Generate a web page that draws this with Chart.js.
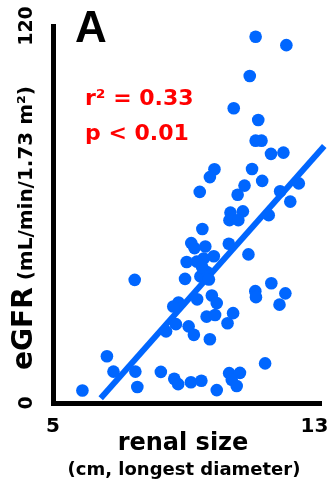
<!DOCTYPE html>
<html>
<head>
<meta charset="utf-8">
<script src="https://cdn.jsdelivr.net/npm/chart.js@4.4.0/dist/chart.umd.min.js"></script>
<style>
  html, body { margin: 0; padding: 0; background: #fff; }
  canvas { display: block; }
</style>
</head>
<body>
<canvas id="renalChart" width="333" height="488"></canvas>
<script>
// --- Data ---
const renalSize = [
    11.20, 12.14, 11.02, 10.53, 11.28, 11.20, 11.38, 11.67, 12.05, 9.94,
    9.80, 11.09, 11.40, 10.86, 9.49, 10.65, 12.52, 11.95, 12.26, 10.43,
    10.81, 10.40, 10.67, 11.60, 9.57, 9.23, 9.33, 9.66, 10.38, 10.98,
    9.92, 9.61, 9.40, 9.09, 9.04, 9.51, 9.71, 9.77, 9.56, 7.50,
    11.68, 11.19, 11.21, 12.11, 11.93, 9.41, 9.86, 10.01, 8.84, 8.68,
    10.51, 9.70, 9.96, 10.34, 8.76, 8.46, 9.15, 9.31, 9.80, 6.65,
    6.85, 7.52, 7.58, 5.90, 8.30, 8.71, 8.83, 9.22, 9.54, 10.01,
    10.39, 10.72, 10.47, 10.62, 11.49
];
const egfr = [
    116.6, 113.9, 104.1, 93.8, 90.1, 83.5, 83.5, 79.3, 79.7, 74.4,
    71.9, 74.5, 70.7, 69.2, 67.2, 66.3, 69.9, 67.4, 64.1, 60.6,
    61.0, 58.2, 58.2, 59.8, 55.4, 50.9, 49.3, 49.8, 50.7, 47.3,
    46.7, 46.0, 45.0, 44.9, 39.5, 40.3, 41.7, 39.3, 43.3, 39.2,
    38.1, 35.6, 33.7, 34.9, 31.3, 33.0, 34.2, 31.8, 32.0, 30.7,
    28.6, 27.5, 28.0, 25.4, 25.1, 22.8, 24.4, 21.7, 20.3, 14.9,
    10.0, 10.0, 5.1, 4.0, 9.9, 7.7, 6.0, 6.6, 7.1, 4.1,
    9.5, 9.6, 7.4, 5.4, 12.6
];
// regression line end points
const fitX = [6.46, 13.3];
const fitY = [1.5, 81.8];

const xTicks = [5, 13];
const yTicks = [0, 120];

const BLUE = '#0066ff';
const FONT = '"DejaVu Sans", sans-serif';

// --- Text that Chart.js cannot lay out (panel letter, stats, mixed-size titles) ---
const panelText = {
    id: 'panelText',
    afterDraw(chart) {
        const ctx = chart.ctx;
        ctx.save();
        ctx.textBaseline = 'alphabetic';

        ctx.fillStyle = '#000';
        ctx.textAlign = 'left';
        ctx.font = 'bold 44px "Liberation Sans", sans-serif';
        ctx.fillText('A', 75, 42);

        ctx.fillStyle = '#ff0000';
        ctx.font = 'bold 22px ' + FONT;
        ctx.fillText('r² = 0.33', 85, 105);
        ctx.fillText('p < 0.01', 85, 140);

        // x title
        ctx.fillStyle = '#000';
        ctx.textAlign = 'center';
        ctx.font = 'bold 24px ' + FONT;
        ctx.fillText('renal size', 183, 450);
        ctx.font = 'bold 18px ' + FONT;
        ctx.fillText('(cm, longest diameter)', 184, 475);

        // y title, rotated
        ctx.translate(32, 228);
        ctx.rotate(-Math.PI / 2);
        ctx.textAlign = 'left';
        const big = 'bold 28px ' + FONT;
        const small = 'bold 20px ' + FONT;
        ctx.font = big;
        const w1 = ctx.measureText('eGFR').width;
        ctx.font = small;
        const w2 = ctx.measureText(' (mL/min/1.73 m²)').width;
        let x0 = -(w1 + w2) / 2;
        ctx.font = big;
        ctx.fillText('eGFR', x0, 0);
        ctx.font = small;
        ctx.fillText(' (mL/min/1.73 m²)', x0 + w1, 0);

        ctx.restore();
    }
};

Chart.defaults.font.family = FONT;

new Chart(document.getElementById('renalChart'), {
    type: 'scatter',
    data: {
        datasets: [
            {
                type: 'scatter',
                data: renalSize.map((x, i) => ({ x: x, y: egfr[i] })),
                backgroundColor: BLUE,
                borderWidth: 0,
                pointRadius: 6.3,
                clip: false
            },
            {
                type: 'line',
                data: fitX.map((x, i) => ({ x: x, y: fitY[i] })),
                borderColor: BLUE,
                borderWidth: 6,
                pointRadius: 0,
                fill: false,
                clip: false
            }
        ]
    },
    plugins: [panelText],
    options: {
        responsive: false,
        animation: false,
        layout: { padding: { top: 26, right: 12, left: 0, bottom: 0 } },
        plugins: { legend: { display: false }, tooltip: { enabled: false } },
        scales: {
            x: {
                type: 'linear',
                min: 5,
                max: 13.2,
                afterBuildTicks: scale => { scale.ticks = xTicks.map(v => ({ value: v })); },
                afterFit: scale => {
                    scale.height = 85;
                    scale.paddingLeft = 0;
                    scale.paddingRight = 0;
                },
                grid: { display: false, drawTicks: false },
                border: { display: true, color: '#000', width: 5 },
                ticks: { color: '#000', padding: 12, font: { size: 20, weight: 'bold' }, maxRotation: 0 }
            },
            y: {
                type: 'linear',
                min: 0,
                max: 120,
                afterBuildTicks: scale => { scale.ticks = yTicks.map(v => ({ value: v })); },
                afterFit: scale => {
                    scale.width = 53;
                    scale.paddingTop = 0;
                    scale.paddingBottom = 0;
                },
                grid: { display: false, drawTicks: false },
                border: { display: true, color: '#000', width: 5 },
                ticks: {
                    color: '#000', padding: 6, crossAlign: 'center',
                    minRotation: 90, maxRotation: 90,
                    font: { size: 19, weight: 'bold' }
                }
            }
        }
    }
});
</script>
</body>
</html>
